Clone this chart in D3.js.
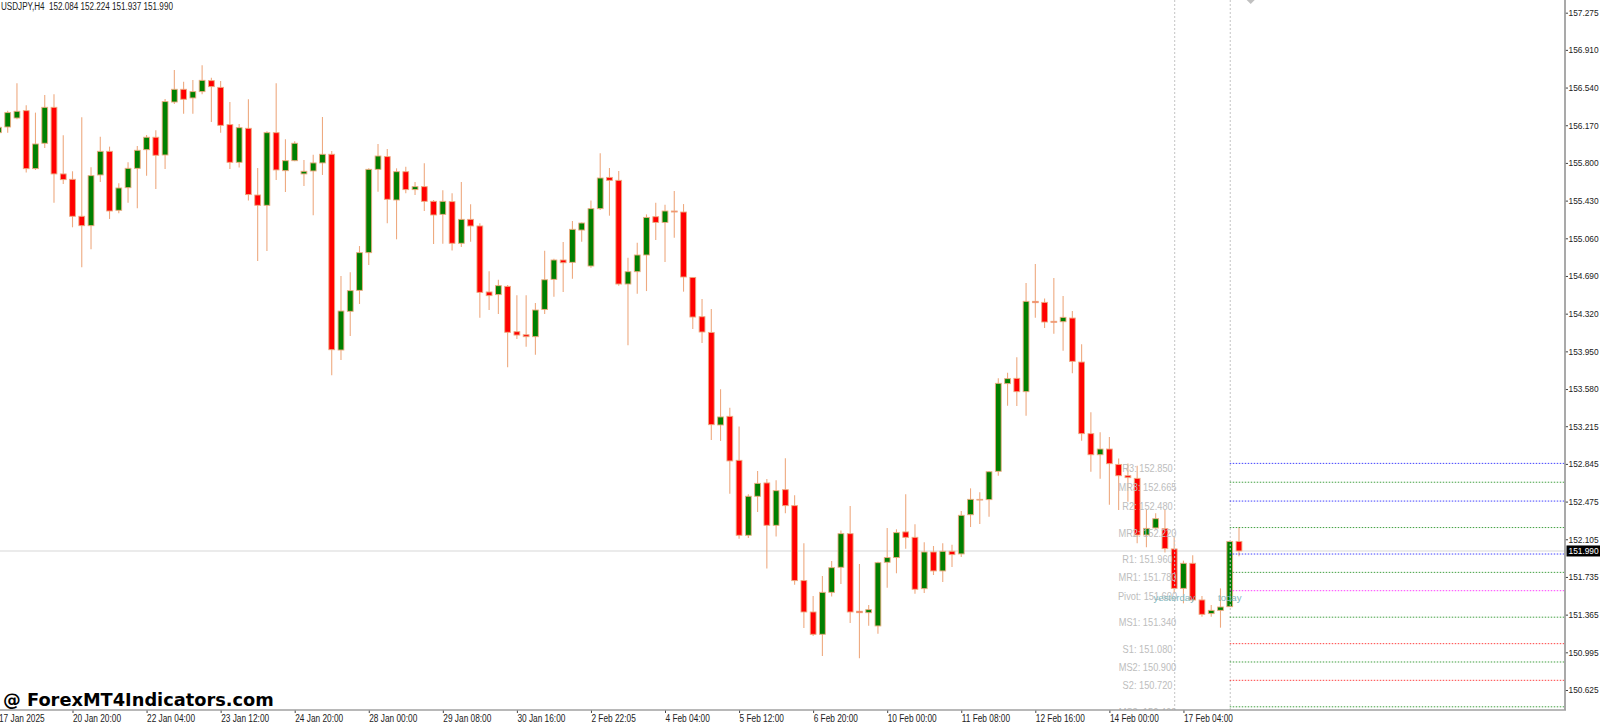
<!DOCTYPE html>
<html>
<head>
<meta charset="utf-8">
<script src="https://cdn.jsdelivr.net/npm/d3@7"></script>
<style>
  html, body { margin: 0; padding: 0; background: #fff; overflow: hidden; }
  svg { display: block; }
  text { font-family: "Liberation Sans", sans-serif; }
</style>
</head>
<body>
<svg id="chart" width="1600" height="723"></svg>
<script>
// USDJPY H4 candles, index 0 is the leftmost bar
var opens = [
  156.097,156.153,156.241,156.313,155.744,155.993,156.346,155.692,155.639,155.276,
  155.184,155.682,155.914,155.335,155.557,155.747,155.930,156.052,155.878,156.398,
  156.523,156.438,156.500,156.608,156.542,156.176,155.806,156.140,155.485,155.384,
  156.097,155.724,155.822,155.692,155.721,155.800,155.885,153.963,154.343,154.549,
  154.919,155.737,155.862,155.436,155.714,155.538,155.567,155.423,155.295,155.420,
  155.011,155.246,155.181,154.533,154.507,154.588,154.143,154.113,154.094,154.362,
  154.657,154.847,154.824,155.141,154.788,155.351,155.658,155.629,154.611,154.732,
  154.896,155.272,155.216,155.328,155.318,154.676,154.290,154.136,153.227,153.312,
  152.880,152.144,152.527,152.658,152.242,152.592,152.435,151.699,151.391,151.172,
  151.584,151.830,152.160,151.398,151.384,151.254,151.879,151.925,152.177,152.124,
  151.620,151.980,151.794,151.987,151.961,152.346,152.497,152.494,152.772,153.633,
  153.685,153.554,154.441,154.431,154.245,154.241,154.277,153.845,153.142,152.935,
  152.991,152.840,152.729,152.703,152.147,152.216,152.209,152.010,151.623,151.869,
  151.509,151.375,151.407,151.443,152.084];
var highs = [
  156.190,156.313,156.582,156.366,156.294,156.467,156.474,156.071,155.718,156.248,
  155.757,156.058,155.960,155.600,155.806,155.966,156.074,156.120,156.428,156.713,
  156.598,156.615,156.758,156.637,156.605,156.398,156.182,156.425,155.750,156.110,
  156.582,156.032,156.012,155.829,155.881,156.251,155.917,154.690,154.726,154.984,
  155.747,155.986,155.937,155.747,155.763,155.613,155.796,155.436,155.531,155.502,
  155.613,155.394,155.207,154.736,154.654,154.601,154.500,154.500,154.424,154.938,
  154.860,155.023,155.230,155.216,155.432,155.894,155.750,155.720,154.869,155.017,
  155.295,155.409,155.390,155.524,155.396,154.680,154.464,154.365,153.577,153.397,
  153.211,152.546,152.776,152.697,152.684,152.900,152.537,152.065,151.548,151.744,
  151.892,152.190,152.432,151.862,151.460,151.885,152.216,152.203,152.546,152.252,
  152.075,152.039,152.065,152.052,152.382,152.605,152.566,152.775,153.685,153.741,
  153.891,154.621,154.808,154.470,154.670,154.493,154.346,154.019,153.351,153.155,
  153.109,152.899,152.850,152.828,152.399,152.360,152.393,152.131,151.895,151.947,
  151.548,151.460,151.623,152.091,152.224];
var lows = [
  156.070,156.097,156.228,155.705,155.731,155.947,155.410,155.593,155.168,154.775,
  154.952,155.613,155.250,155.305,155.410,155.354,155.675,155.544,155.741,156.379,
  156.284,156.284,156.474,156.202,156.097,155.741,155.754,155.430,154.837,154.935,
  155.633,155.515,155.816,155.574,155.286,155.682,153.715,153.865,154.101,154.415,
  154.798,155.518,155.207,155.050,155.502,155.485,155.328,155.004,155.007,154.939,
  154.975,155.027,154.281,154.356,154.317,153.793,154.071,153.996,153.917,154.316,
  154.487,154.532,154.663,155.027,154.771,155.338,155.282,154.595,154.009,154.516,
  154.542,155.043,154.827,155.066,154.536,154.169,154.032,153.080,153.070,152.553,
  152.111,152.118,152.373,151.817,152.131,152.360,151.659,151.234,151.155,150.959,
  151.542,151.666,151.283,150.936,151.257,151.178,151.630,151.771,152.013,151.571,
  151.578,151.754,151.686,151.833,151.930,152.225,152.255,152.327,152.729,153.417,
  153.413,153.318,154.281,154.179,154.124,153.957,153.734,153.073,152.768,152.700,
  152.444,152.392,152.474,152.065,152.026,152.209,151.974,151.574,151.476,151.492,
  151.345,151.345,151.237,151.440,151.937];
var closes = [
  156.150,156.294,156.307,155.744,155.986,156.346,155.692,155.636,155.276,155.184,
  155.675,155.914,155.328,155.554,155.747,155.924,156.052,155.875,156.402,156.523,
  156.425,156.500,156.611,156.549,156.169,155.806,156.146,155.489,155.384,156.097,
  155.731,155.822,155.993,155.718,155.800,155.885,153.966,154.346,154.546,154.919,
  155.737,155.868,155.443,155.714,155.538,155.567,155.423,155.289,155.423,155.011,
  155.246,155.181,154.529,154.497,154.595,154.137,154.110,154.094,154.356,154.653,
  154.847,154.820,155.148,155.210,155.351,155.652,155.629,154.611,154.732,154.896,
  155.265,155.216,155.328,155.318,154.680,154.287,154.140,153.230,153.306,152.874,
  152.144,152.527,152.654,152.242,152.582,152.435,151.699,151.391,151.172,151.584,
  151.826,152.160,151.391,151.384,151.414,151.875,151.925,152.170,152.124,151.614,
  151.980,151.794,151.987,151.954,152.340,152.497,152.490,152.768,153.636,153.682,
  153.554,154.441,154.428,154.238,154.235,154.284,153.852,153.142,152.935,152.991,
  152.847,152.729,152.710,152.147,152.212,152.307,152.013,151.623,151.869,151.509,
  151.368,151.407,151.440,152.084,151.990];

var priceTicks = [157.275,156.910,156.540,156.170,155.800,155.430,155.060,154.690,154.320,
  153.950,153.580,153.215,152.845,152.475,152.105,151.735,151.365,150.995,150.625];
var timeBars = [0,8,16,24,32,40,48,56,64,72,80,88,96,104,112,120,128];
var timeLabels = ["17 Jan 2025","20 Jan 20:00","22 Jan 04:00","23 Jan 12:00","24 Jan 20:00",
  "28 Jan 00:00","29 Jan 08:00","30 Jan 16:00","2 Feb 22:05","4 Feb 04:00","5 Feb 12:00",
  "6 Feb 20:00","10 Feb 00:00","11 Feb 08:00","12 Feb 16:00","14 Feb 00:00","17 Feb 04:00"];

// pivot levels of the day
var pivotNames = ["R3","MR3","R2","MR2","R1","MR1","Pivot","MS1","S1","MS2","S2","MS3"];
var pivotValues = [152.850,152.665,152.480,152.220,151.960,151.780,151.600,151.340,151.080,150.900,150.720,150.460];
var pivotColors = ["#0000ff","#008000","#0000ff","#008000","#0000ff","#008000","#ff00ff","#008000","#ff0000","#008000","#ff0000","#008000"];

var lastPrice = 151.990;
var yesterdayBar = 127, todayBar = 133;

var plotRight = 1565, plotBottom = 710;
var axisFont = 10, priceFont = 8.7;

var x = d3.scaleLinear().domain([1, 134]).range([7.7, 1239]);
var y = d3.scaleLinear().domain([157.275, 150.625]).range([12.7, 690]);

var svg = d3.select("#chart");

// the terminal font is narrower than anything installed, so pull the text in
function squeeze(sel, k) {
  sel.each(function() {
    d3.select(this)
      .attr("textLength", this.getComputedTextLength() * k)
      .attr("lengthAdjust", "spacingAndGlyphs");
  });
}

svg.append("defs").append("clipPath").attr("id", "plot")
  .append("rect").attr("x", 0).attr("y", 0).attr("width", plotRight).attr("height", plotBottom);

var plot = svg.append("g").attr("clip-path", "url(#plot)");

// current price line goes under the candles
plot.append("line")
  .attr("x1", 0).attr("x2", plotRight)
  .attr("y1", y(lastPrice)).attr("y2", y(lastPrice))
  .attr("stroke", "#d8d8d8").attr("stroke-width", 1.2);

var bars = plot.append("g").selectAll("g")
  .data(d3.range(opens.length))
  .enter().append("g");

bars.append("line")
  .attr("x1", function(i) { return x(i); })
  .attr("x2", function(i) { return x(i); })
  .attr("y1", function(i) { return y(highs[i]); })
  .attr("y2", function(i) { return y(lows[i]); })
  .attr("stroke", "#eeaa80").attr("stroke-width", 1.1);

bars.append("rect")
  .attr("x", function(i) { return x(i) - 2.9; })
  .attr("width", 5.8)
  .attr("y", function(i) { return y(Math.max(opens[i], closes[i])); })
  .attr("height", function(i) { return Math.abs(y(opens[i]) - y(closes[i])); })
  .attr("fill", function(i) { return closes[i] >= opens[i] ? "#008000" : "#ff0000"; })
  .attr("stroke", "#eeaa80").attr("stroke-width", 0.9);

// day separators
[yesterdayBar, todayBar].forEach(function(b) {
  plot.append("line")
    .attr("x1", x(b) + 0.5).attr("x2", x(b) + 0.5)
    .attr("y1", 0).attr("y2", plotBottom)
    .attr("stroke", "#c4c4c4").attr("stroke-width", 1)
    .attr("stroke-dasharray", "2,2");
});

plot.append("path")
  .attr("d", d3.symbol().type(d3.symbolSquare).size(32))
  .attr("transform", "translate(1250.7,0) rotate(45)")
  .attr("fill", "#c0c0c0");

// pivot lines and their labels
plot.selectAll(".pivot")
  .data(pivotValues)
  .enter().append("line")
  .attr("class", "pivot")
  .attr("x1", x(todayBar)).attr("x2", plotRight)
  .attr("y1", function(d) { return y(d); })
  .attr("y2", function(d) { return y(d); })
  .attr("stroke", function(d, i) { return pivotColors[i]; })
  .attr("stroke-opacity", 0.75)
  .attr("stroke-dasharray", "1.5,1.5");

var pivotLabels = plot.selectAll(".pivotLabel")
  .data(pivotValues)
  .enter().append("text")
  .attr("class", "pivotLabel")
  .attr("x", 1147.5)
  .attr("y", function(d) { return y(d) + 9; })
  .attr("text-anchor", "middle")
  .attr("font-size", 10.5)
  .attr("fill", "#bdbdbd")
  .text(function(d, i) { return pivotNames[i] + ": " + d.toFixed(3); });
squeeze(pivotLabels, 0.88);

plot.selectAll(".dayLabel")
  .data([["yesterday", yesterdayBar], ["today", todayBar]])
  .enter().append("text")
  .attr("class", "dayLabel")
  .attr("x", function(d) { return x(d[1]); })
  .attr("y", 600.5)
  .attr("text-anchor", "middle")
  .attr("font-size", 9.6)
  .attr("fill", "#85b7bd")
  .text(function(d) { return d[0]; });

// axes
var yAxis = d3.axisRight(y).tickValues(priceTicks).tickSize(3).tickPadding(0.5)
  .tickFormat(d3.format(".3f"));
var gy = svg.append("g").attr("transform", "translate(" + plotRight + ",0)").call(yAxis);
gy.select(".domain").remove();
gy.selectAll("text").attr("font-size", priceFont).attr("fill", "#222")
  .style("font-family", "'Liberation Sans', sans-serif");
squeeze(gy.selectAll("text"), 0.96);

var xAxis = d3.axisBottom(x).tickValues(timeBars).tickSize(3).tickPadding(1.5)
  .tickFormat(function(d, i) { return timeLabels[i]; });
var gx = svg.append("g").attr("transform", "translate(0," + plotBottom + ")").call(xAxis);
gx.select(".domain").remove();
gx.selectAll("text").attr("text-anchor", "start").attr("font-size", axisFont).attr("fill", "#222")
  .style("font-family", "'Liberation Sans', sans-serif");
squeeze(gx.selectAll("text"), 0.83);
svg.selectAll(".tick line").attr("stroke", "#444");

svg.append("line").attr("x1", 0).attr("x2", plotRight + 1)
  .attr("y1", plotBottom).attr("y2", plotBottom)
  .attr("stroke", "#a0a0a0").attr("stroke-width", 1.6);
svg.append("line").attr("x1", plotRight).attr("x2", plotRight)
  .attr("y1", 0).attr("y2", plotBottom)
  .attr("stroke", "#a0a0a0").attr("stroke-width", 1.8);

// last price flag
svg.append("rect").attr("x", plotRight + 1.5).attr("y", y(lastPrice) - 5.5)
  .attr("width", 1600 - plotRight).attr("height", 11).attr("fill", "#000");
svg.append("text").attr("x", plotRight + 3.5).attr("y", y(lastPrice) + 3.2)
  .attr("font-size", priceFont).attr("fill", "#fff").text(lastPrice.toFixed(3))
  .call(squeeze, 0.96);

// header and watermark
svg.append("text").attr("x", 1).attr("y", 9.7)
  .attr("font-size", axisFont).attr("fill", "#222")
  .attr("xml:space", "preserve")
  .text("USDJPY,H4  " + [opens[134], highs[134], lows[134], closes[134]].map(function(v) { return v.toFixed(3); }).join(" "))
  .call(squeeze, 0.81);

svg.append("text").attr("x", 3).attr("y", 705.5)
  .attr("font-size", 17.8).attr("font-weight", "bold").attr("fill", "#000")
  .style("font-family", "'DejaVu Sans', sans-serif")
  .text("@ ForexMT4Indicators.com");
</script>
</body>
</html>
